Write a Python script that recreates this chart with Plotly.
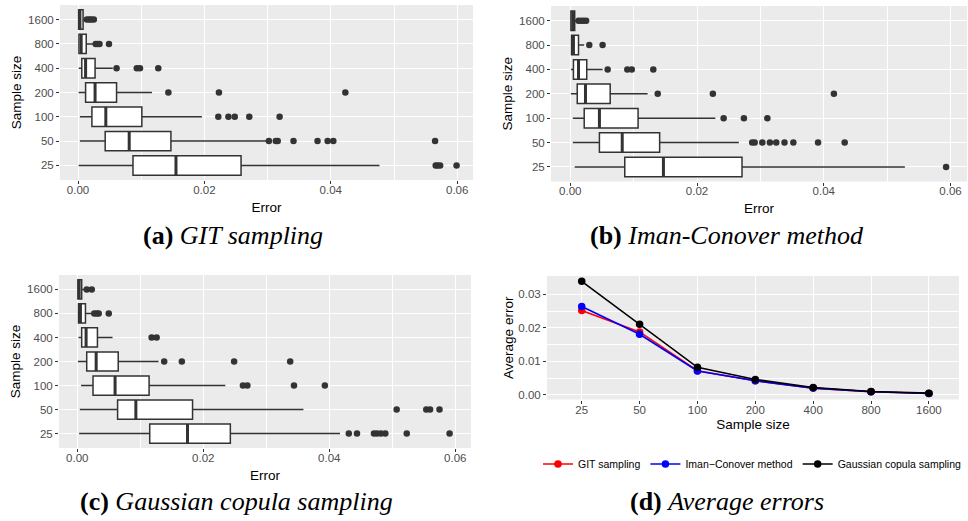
import plotly.graph_objects as go

W, H = 968, 521

categories = ["25", "50", "100", "200", "400", "800", "1600"]
positions = list(range(len(categories)))

# ---- (a) GIT sampling : box statistics ----
git_lower = [0.0001, 0.0003, 0.0003, 0.0001, 0.0001, 0.00005, 0.00005]
git_q1 = [0.0087, 0.0043, 0.0022, 0.0012, 0.0006, 0.00015, 0.0001]
git_median = [0.0155, 0.0081, 0.0044, 0.0027, 0.0012, 0.0005, 0.0003]
git_q3 = [0.0258, 0.0147, 0.0101, 0.0061, 0.0027, 0.0013, 0.0008]
git_upper = [0.0477, 0.0299, 0.0196, 0.0117, 0.0055, 0.0026, 0.0012]
git_outliers = {
    "25": [0.0566, 0.0569, 0.0573, 0.0599],
    "50": [0.0302, 0.0313, 0.0316, 0.0341, 0.0379, 0.0395, 0.0404, 0.0565],
    "100": [0.0222, 0.0238, 0.0248, 0.0271, 0.0319],
    "200": [0.0143, 0.0223, 0.0423],
    "400": [0.0061, 0.0093, 0.0098, 0.0127],
    "800": [0.0028, 0.0031, 0.0034, 0.0049],
    "1600": [0.0014, 0.0018, 0.0021, 0.0025],
}

# ---- (b) Iman-Conover method ----
ic_lower = [0.0007, 0.0004, 0.0004, 0.0001, 0.0001, 0.0001, 0.00005]
ic_q1 = [0.0086, 0.0046, 0.0022, 0.0011, 0.0005, 0.0002, 0.0001]
ic_median = [0.0147, 0.0082, 0.0046, 0.0024, 0.0013, 0.0005, 0.0004]
ic_q3 = [0.0271, 0.0141, 0.0107, 0.0063, 0.0026, 0.0013, 0.0007]
ic_upper = [0.0528, 0.0266, 0.0229, 0.0122, 0.0051, 0.0022, 0.0012]
ic_outliers = {
    "25": [0.0593],
    "50": [0.0287, 0.0291, 0.0303, 0.0315, 0.0325, 0.0338, 0.0352, 0.0391, 0.0433],
    "100": [0.0242, 0.0274, 0.0311],
    "200": [0.0138, 0.0225, 0.0416],
    "400": [0.0059, 0.0090, 0.0097, 0.0131],
    "800": [0.0030, 0.0051],
    "1600": [0.0013, 0.0017, 0.0021, 0.0025],
}

# ---- (c) Gaussian copula sampling ----
gc_lower = [0.0003, 0.0004, 0.0006, 0.0001, 0.0002, 0.0001, 0.00005]
gc_q1 = [0.0115, 0.0064, 0.0025, 0.0015, 0.0007, 0.0002, 0.0001]
gc_median = [0.0175, 0.0093, 0.0060, 0.0030, 0.0014, 0.0005, 0.0003]
gc_q3 = [0.0243, 0.0183, 0.0114, 0.0065, 0.0032, 0.0013, 0.0007]
gc_upper = [0.0417, 0.0359, 0.0235, 0.0129, 0.0056, 0.0024, 0.0012]
gc_outliers = {
    "25": [0.0431, 0.0444, 0.0471, 0.0476, 0.0482, 0.0489, 0.0523, 0.0591],
    "50": [0.0507, 0.0554, 0.0560, 0.0575],
    "100": [0.0263, 0.0270, 0.0344, 0.0393],
    "200": [0.0138, 0.0166, 0.0249, 0.0338],
    "400": [0.0118, 0.0126],
    "800": [0.0027, 0.0031, 0.0034, 0.0050],
    "1600": [0.0015, 0.0023],
}

# ---- (d) Average errors ----
avg_git = [0.0252, 0.0188, 0.0072, 0.0042, 0.0020, 0.0009, 0.0004]
avg_ic = [0.0264, 0.0181, 0.0071, 0.0042, 0.0020, 0.0009, 0.0004]
avg_gc = [0.0339, 0.0211, 0.0082, 0.0046, 0.0022, 0.0010, 0.0005]

x_ticks = [0.0, 0.02, 0.04, 0.06]
x_ticktext = ["0.00", "0.02", "0.04", "0.06"]
y4_ticks = [0.0, 0.01, 0.02, 0.03]
y4_ticktext = ["0.00", "0.01", "0.02", "0.03"]

captions = [
    ("(a)", "GIT sampling"),
    ("(b)", "Iman-Conover method"),
    ("(c)", "Gaussian copula sampling"),
    ("(d)", "Average errors"),
]

BOX_W = 0.8
EDGE = "#333333"
TICKC = "#4D4D4D"
SANS = "Liberation Sans, Arial, sans-serif"

fig = go.Figure()

panels = [
    ("x", "y", git_lower, git_q1, git_median, git_q3, git_upper, git_outliers),
    ("x2", "y2", ic_lower, ic_q1, ic_median, ic_q3, ic_upper, ic_outliers),
    ("x3", "y3", gc_lower, gc_q1, gc_median, gc_q3, gc_upper, gc_outliers),
]

for xa, ya, lo, q1, med, q3, up, outl in panels:
    fig.add_trace(go.Box(
        y=positions, q1=q1, median=med, q3=q3, lowerfence=lo, upperfence=up,
        orientation="h", width=BOX_W, whiskerwidth=0,
        fillcolor="white", line=dict(color=EDGE, width=1.5),
        xaxis=xa, yaxis=ya, showlegend=False, boxpoints=False,
    ))
    # thicker median bars (ggplot fatten)
    mx, my = [], []
    for p, m in zip(positions, med):
        mx += [m, m, None]
        my += [p - BOX_W / 2, p + BOX_W / 2, None]
    fig.add_trace(go.Scatter(
        x=mx, y=my, mode="lines", line=dict(color=EDGE, width=3),
        xaxis=xa, yaxis=ya, showlegend=False, hoverinfo="skip",
    ))
    ox, oy = [], []
    for p, c in zip(positions, categories):
        for v in outl[c]:
            ox.append(v)
            oy.append(p)
    fig.add_trace(go.Scatter(
        x=ox, y=oy, mode="markers",
        marker=dict(color=EDGE, size=6.5, line=dict(width=0)),
        xaxis=xa, yaxis=ya, showlegend=False,
    ))

for name, vals, col in [("GIT sampling", avg_git, "#FF0000"),
                        ("Iman\u2212Conover method", avg_ic, "#0000FF"),
                        ("Gaussian copula sampling", avg_gc, "#000000")]:
    fig.add_trace(go.Scatter(
        x=positions, y=vals, mode="lines+markers", name=name,
        line=dict(color=col, width=1.6), marker=dict(color=col, size=7.5),
        xaxis="x4", yaxis="y4",
    ))


def px_x(a, b):
    return [a / W, b / W]


def px_y(top, bottom):
    return [1 - bottom / H, 1 - top / H]


tickfont = dict(family=SANS, size=11.5, color=TICKC)
titlefont = dict(family=SANS, size=13.5, color="black")


def err_xaxis(dom, anchor, rng):
    return dict(
        domain=dom, anchor=anchor, range=rng,
        tickvals=x_ticks, ticktext=x_ticktext,
        showgrid=True, gridcolor="white", gridwidth=1.1,
        minor=dict(tickvals=[0.01, 0.03, 0.05], showgrid=True, gridcolor="white", gridwidth=0.55),
        zeroline=False, showline=False,
        ticks="outside", ticklen=3, tickcolor=EDGE, tickwidth=1,
        tickfont=tickfont, ticklabelstandoff=-4,
        title=dict(text="Error", font=titlefont, standoff=7),
    )


def cat_yaxis(dom, anchor):
    return dict(
        domain=dom, anchor=anchor, range=[-0.6, 6.6],
        tickvals=positions, ticktext=categories,
        showgrid=True, gridcolor="white", gridwidth=1.1,
        zeroline=False, showline=False,
        ticks="outside", ticklen=3, tickcolor=EDGE, tickwidth=1,
        tickfont=tickfont,
        title=dict(text="Sample size", font=titlefont, standoff=3),
    )


annotations = []
cap_pos = [(233, 235), (727, 235), (236, 501), (727, 501)]
for (lab, txt), (cx, cy) in zip(captions, cap_pos):
    annotations.append(dict(
        text=f"<b>{lab}</b> <i>{txt}</i>", x=cx / W, y=1 - cy / H,
        xref="paper", yref="paper", showarrow=False,
        xanchor="center", yanchor="middle",
        font=dict(family="Liberation Serif, Times New Roman, serif", size=26, color="black"),
    ))

fig.update_layout(
    width=W, height=H,
    margin=dict(l=0, r=0, t=0, b=0, autoexpand=False),
    paper_bgcolor="white", plot_bgcolor="#EBEBEB",
    xaxis=err_xaxis(px_x(60, 473), "y", [-0.00285, 0.0625]),
    yaxis=cat_yaxis(px_y(5, 180), "x"),
    xaxis2=err_xaxis(px_x(551, 967), "y2", [-0.00304, 0.0626]),
    yaxis2=cat_yaxis(px_y(6, 181.5), "x2"),
    xaxis3=err_xaxis(px_x(59, 471), "y3", [-0.0029, 0.0625]),
    yaxis3=cat_yaxis(px_y(275, 448), "x3"),
    xaxis4=dict(
        domain=px_x(547, 959), anchor="y4", range=[-0.6, 6.52],
        tickvals=positions, ticktext=categories,
        showgrid=True, gridcolor="white", gridwidth=1.1,
        zeroline=False, showline=False,
        ticks="outside", ticklen=3, tickcolor=EDGE, tickwidth=1,
        tickfont=tickfont, ticklabelstandoff=-3,
        title=dict(text="Sample size", font=titlefont, standoff=4),
    ),
    yaxis4=dict(
        domain=px_y(276, 399.5), anchor="x4", range=[-0.0014, 0.0355],
        tickvals=y4_ticks, ticktext=y4_ticktext,
        showgrid=True, gridcolor="white", gridwidth=1.1,
        minor=dict(tickvals=[0.005, 0.015, 0.025], showgrid=True, gridcolor="white", gridwidth=0.55),
        zeroline=False, showline=False,
        ticks="outside", ticklen=3, tickcolor=EDGE, tickwidth=1,
        tickfont=tickfont,
        title=dict(text="Average error", font=titlefont, standoff=1),
    ),
    showlegend=True,
    legend=dict(
        orientation="h", x=538 / W, y=1 - 464 / H, xanchor="left", yanchor="middle",
        font=dict(family=SANS, size=10.5, color="black"),
        bgcolor="rgba(0,0,0,0)", itemwidth=30, tracegroupgap=0,
    ),
    annotations=annotations,
)

fig.write_html(
    "out.html",
    config={"displayModeBar": False},
    post_script="document.body.style.margin='0px';document.body.style.overflow='hidden';",
)
